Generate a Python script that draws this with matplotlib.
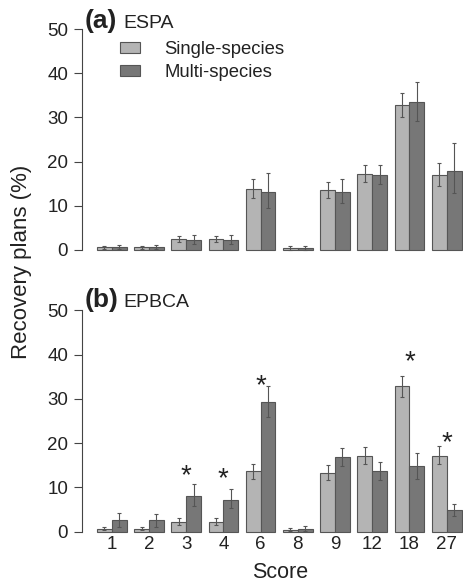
import numpy as np
import matplotlib
matplotlib.use('Agg')
import matplotlib.pyplot as plt
from matplotlib.patches import Patch

plt.rcParams['font.family'] = ['Liberation Sans', 'DejaVu Sans']

# Данные
scores = ['1', '2', '3', '4', '6', '8', '9', '12', '18', '27']

espa_single = [0.6, 0.6, 2.4, 2.4, 13.7, 0.4, 13.5, 17.2, 32.7, 16.9]
espa_single_lo = [0.3, 0.3, 1.8, 1.8, 11.7, 0.1, 11.7, 15.4, 30.0, 14.5]
espa_single_hi = [1.0, 1.0, 3.1, 3.1, 16.0, 0.8, 15.3, 19.2, 35.5, 19.7]
espa_multi = [0.6, 0.6, 2.2, 2.2, 13.1, 0.4, 13.1, 17.0, 33.4, 17.8]
espa_multi_lo = [0.2, 0.2, 1.3, 1.3, 9.6, 0.1, 10.6, 14.9, 29.2, 13.0]
espa_multi_hi = [1.1, 1.1, 3.3, 3.3, 17.5, 0.8, 16.0, 19.2, 37.9, 24.2]

epbca_single = [0.7, 0.7, 2.3, 2.3, 13.6, 0.4, 13.3, 17.2, 32.8, 17.2]
epbca_single_lo = [0.4, 0.4, 1.5, 1.5, 11.8, 0.1, 11.7, 15.4, 30.5, 15.2]
epbca_single_hi = [1.0, 1.0, 3.1, 3.1, 15.4, 0.8, 15.1, 19.1, 35.2, 19.3]
epbca_multi = [2.6, 2.6, 8.1, 7.2, 29.4, 0.6, 16.8, 13.6, 14.8, 4.8]
epbca_multi_lo = [1.0, 1.0, 5.9, 5.3, 26.0, 0.1, 14.8, 11.7, 12.0, 3.6]
epbca_multi_hi = [4.3, 4.1, 10.7, 9.6, 33.0, 1.3, 18.9, 15.7, 17.8, 6.2]

# звездочки: индекс группы и высота
star_idx = [2, 3, 4, 8, 9]
star_y = [14.3, 13.6, 34.6, 39.9, 21.7]

c_single = '#b4b4b4'
c_multi = '#777777'
c_edge = '#555555'
c_text = '#222222'

W, H = 463, 582
fig = plt.figure(figsize=(W / 100, H / 100), dpi=100)

x0 = np.arange(len(scores)) * 2.5
x_single = x0 + 0.5
x_multi = x0 + 1.5
centers = x0 + 1.0


def make_ax(top_px, bottom_px, zero_px, fifty_px):
    ppu = (zero_px - fifty_px) / 50.0
    ax = fig.add_axes([82 / W, 1 - bottom_px / H, (W - 82) / W, (bottom_px - top_px) / H])
    ax.set_ylim(-(bottom_px - zero_px) / ppu, (zero_px - top_px) / ppu)
    ax.set_xlim(-1.0, 24.6)
    for s in ['top', 'right', 'bottom']:
        ax.spines[s].set_visible(False)
    ax.spines['left'].set_bounds(0, 50)
    ax.spines['left'].set_color('#444444')
    ax.spines['left'].set_linewidth(0.8)
    ax.set_yticks([0, 10, 20, 30, 40, 50])
    ax.tick_params(axis='y', length=6, width=0.8, color='#444444', labelsize=13.5,
                   labelcolor=c_text, pad=4)
    ax.patch.set_alpha(0)
    return ax


def draw(ax, s, s_lo, s_hi, m, m_lo, m_hi):
    s = np.array(s); m = np.array(m)
    ax.bar(x_single, s, width=1.0, color=c_single, edgecolor=c_edge, linewidth=0.8)
    ax.bar(x_multi, m, width=1.0, color=c_multi, edgecolor=c_edge, linewidth=0.8)
    ax.errorbar(x_single, s, yerr=[s - np.array(s_lo), np.array(s_hi) - s], fmt='none',
                ecolor=c_edge, elinewidth=0.8, capsize=1.5, capthick=0.8)
    ax.errorbar(x_multi, m, yerr=[m - np.array(m_lo), np.array(m_hi) - m], fmt='none',
                ecolor=c_edge, elinewidth=0.8, capsize=1.5, capthick=0.8)


ax1 = make_ax(22, 258, 250, 29)
draw(ax1, espa_single, espa_single_lo, espa_single_hi, espa_multi, espa_multi_lo, espa_multi_hi)
ax1.set_xticks([])

ax2 = make_ax(302, 536, 531.7, 310.3)
draw(ax2, epbca_single, epbca_single_lo, epbca_single_hi, epbca_multi, epbca_multi_lo, epbca_multi_hi)
ax2.set_xticks(centers)
ax2.set_xticklabels(scores)
ax2.tick_params(axis='x', length=0, labelsize=13.5, labelcolor=c_text, pad=0)

for i, y in zip(star_idx, star_y):
    ax2.text(centers[i], y - 3.3, '*', ha='center', va='baseline', fontsize=20, color=c_text)

# Легенда
handles = [Patch(facecolor=c_single, edgecolor=c_edge, linewidth=0.8, label='Single-species'),
           Patch(facecolor=c_multi, edgecolor=c_edge, linewidth=0.8, label='Multi-species')]
fig.legend(handles=handles, loc='upper left', bbox_to_anchor=(120 / W, 1 - 41 / H),
           frameon=False, fontsize=13.3, handlelength=1.1, handleheight=0.55,
           handletextpad=1.3, labelspacing=0.35, borderpad=0, borderaxespad=0,
           labelcolor=c_text)

# Заголовки панелей
fig.text(85 / W, 1 - 28 / H, '(a)', fontsize=19, fontweight='bold', color=c_text, va='baseline')
fig.text(123 / W, 1 - 28 / H, 'ESPA', fontsize=14, color=c_text, va='baseline')
fig.text(85 / W, 1 - 307 / H, '(b)', fontsize=19, fontweight='bold', color=c_text, va='baseline')
fig.text(123 / W, 1 - 307 / H, 'EPBCA', fontsize=14, color=c_text, va='baseline')

fig.text(22 / W, 1 - 262 / H, 'Recovery plans (%)', rotation=90, ha='center', va='center',
         fontsize=16, color=c_text)
fig.text(280 / W, 1 - 578 / H, 'Score', ha='center', va='baseline', fontsize=15.5, color=c_text)

fig.savefig('out.png', dpi=100)
